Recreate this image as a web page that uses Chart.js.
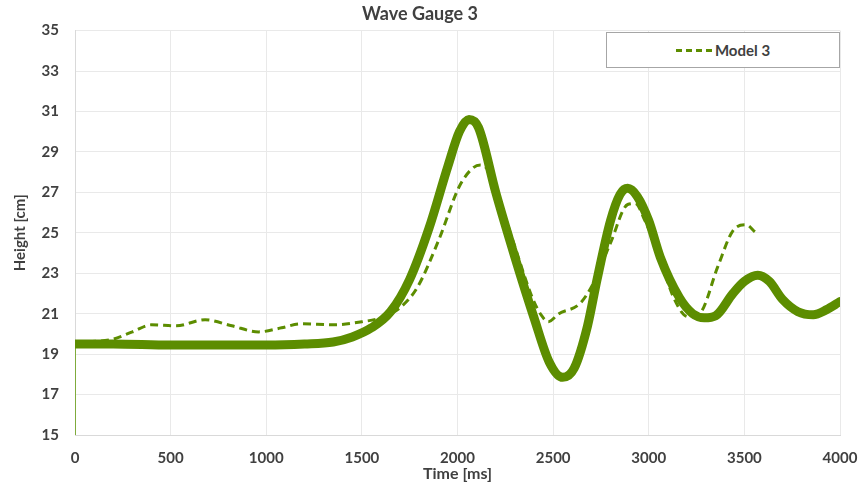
<!DOCTYPE html>
<html>
<head>
<meta charset="utf-8">
<script src="https://cdn.jsdelivr.net/npm/chart.js@4/dist/chart.umd.min.js"></script>
<style>
  body { margin: 0; background: #fff; }
  #wrap { position: relative; width: 860px; height: 485px; }
  #legendBox {
    position: absolute; left: 606px; top: 32px; width: 232px; height: 34px;
    border: 1px solid #a6a6a6; background: #fff;
    display: flex; align-items: center; justify-content: center;
    font: bold 15px Lato, sans-serif; color: #404040;
  }
  #legendBox .swatch { width: 36px; height: 0; border-top: 3px dashed #5c8d00; margin-right: 3px; }
</style>
</head>
<body>
<div id="wrap">
  <canvas id="chart" width="860" height="485"></canvas>
  <div id="legendBox"><span class="swatch"></span><span>Model 3</span></div>
</div>
<script>
// Measured gauge signal (thick solid line)
const gaugeTime = [0, 200, 500, 800, 1000, 1200, 1350, 1450, 1550, 1650, 1750, 1850, 1950, 2010, 2060, 2110,
  2200, 2300, 2400, 2480, 2550, 2610, 2680, 2730, 2800, 2850, 2890, 2940, 3000, 3060, 3160, 3230, 3290, 3350,
  3440, 3500, 3570, 3630, 3700, 3780, 3860, 3930, 4000];
const gaugeHeight = [19.5, 19.5, 19.45, 19.45, 19.45, 19.5, 19.6, 19.85, 20.3, 21.1, 22.7, 25.2, 28.3, 30.0, 30.6, 30.2,
  27.0, 23.8, 20.8, 18.6, 17.85, 18.3, 20.4, 22.7, 25.6, 26.9, 27.2, 26.8, 25.6, 23.8, 21.8, 21.0, 20.8, 20.9,
  22.0, 22.6, 22.9, 22.6, 21.7, 21.1, 20.95, 21.2, 21.6];

// Start-up spike of the gauge at t = 0
const spikeTime = [0, 0];
const spikeHeight = [15, 19.5];

// Model 3 (dashed)
const modelTime = [0, 180, 300, 400, 530, 680, 820, 960, 1080, 1180, 1350, 1500, 1600, 1700, 1790, 1900, 2010,
  2080, 2120, 2160, 2220, 2290, 2395, 2440, 2475, 2530, 2640, 2710, 2800, 2890, 2930, 2980, 3040, 3130, 3205,
  3270, 3360, 3440, 3510, 3555];
const modelHeight = [19.6, 19.7, 20.1, 20.45, 20.4, 20.7, 20.4, 20.1, 20.3, 20.5, 20.45, 20.6, 20.8, 21.3, 22.3, 24.6, 27.3,
  28.2, 28.35, 28.1, 26.6, 24.6, 21.7, 20.9, 20.6, 21.0, 21.5, 22.5, 24.5, 26.4, 26.45, 25.6, 24.3, 21.8, 20.85,
  21.05, 23.3, 25.1, 25.4, 25.05];

const xTicks = [0, 500, 1000, 1500, 2000, 2500, 3000, 3500, 4000];
const yTicks = [15, 17, 19, 21, 23, 25, 27, 29, 31, 33, 35];

const green = '#5c8d00';
const textColor = '#404040';
const font = 'Lato, sans-serif';

function toPoints(xs, ys) {
  return xs.map((x, i) => ({ x: x, y: ys[i] }));
}

new Chart(document.getElementById('chart'), {
  type: 'line',
  data: {
    datasets: [
      {
        label: 'Gauge',
        data: toPoints(gaugeTime, gaugeHeight),
        borderColor: green,
        borderWidth: 9,
        pointRadius: 0,
        cubicInterpolationMode: 'monotone',
        borderCapStyle: 'round',
        borderJoinStyle: 'round'
      },
      {
        label: 'Spike',
        data: toPoints(spikeTime, spikeHeight),
        borderColor: '#7fab3c',
        borderWidth: 2,
        pointRadius: 0
      },
      {
        label: 'Model 3',
        data: toPoints(modelTime, modelHeight),
        borderColor: green,
        borderWidth: 3,
        borderDash: [8, 5],
        pointRadius: 0,
        cubicInterpolationMode: 'monotone'
      }
    ]
  },
  options: {
    responsive: false,
    animation: false,
    layout: { padding: { right: 20, left: 0, top: 0, bottom: 0 } },
    plugins: {
      legend: { display: false },
      tooltip: { enabled: false },
      title: {
        display: true,
        text: 'Wave Gauge 3',
        color: textColor,
        font: { family: font, size: 18, weight: 'bold' },
        padding: { top: 3, bottom: 6 }
      }
    },
    scales: {
      x: {
        type: 'linear',
        min: 0,
        max: 4000,
        afterBuildTicks: s => { s.ticks = xTicks.map(v => ({ value: v })); },
        afterFit: s => { s.height = 50; s.paddingLeft = 0; s.paddingRight = 0; },
        grid: { color: '#e9e9e9', drawTicks: false },
        border: { color: '#d9d9d9' },
        ticks: {
          color: textColor, padding: 14,
          font: { family: font, size: 15, weight: 'bold' },
          callback: v => String(v)
        },
        title: {
          display: true,
          text: 'Time [ms]',
          color: textColor,
          font: { family: font, size: 16, weight: 'bold' },
          padding: { top: 0, bottom: 2 }
        }
      },
      y: {
        min: 15,
        max: 35,
        afterBuildTicks: s => { s.ticks = yTicks.map(v => ({ value: v })); },
        afterFit: s => { s.width = 75; },
        grid: { color: '#e9e9e9', drawTicks: false },
        border: { color: '#d9d9d9' },
        ticks: { color: textColor, padding: 16, font: { family: font, size: 15, weight: 'bold' } },
        title: {
          display: true,
          text: 'Height [cm]',
          color: textColor,
          font: { family: font, size: 15, weight: 'bold' },
          padding: { top: 11, bottom: 0 }
        }
      }
    }
  }
});
</script>
</body>
</html>
